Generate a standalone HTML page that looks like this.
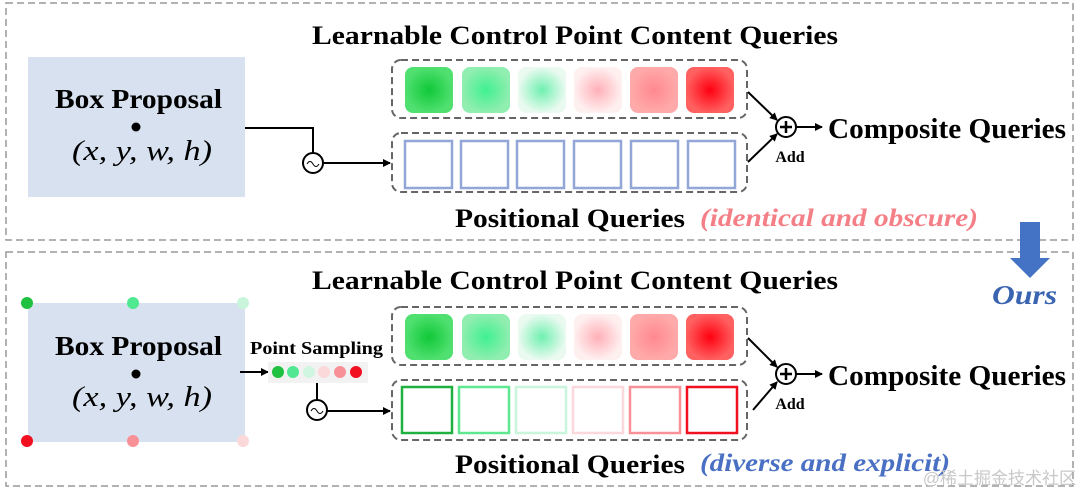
<!DOCTYPE html>
<html><head><meta charset="utf-8"><style>
html,body{margin:0;padding:0;background:#fff;}
svg{display:block;font-family:"Liberation Serif",serif;}
</style></head><body>
<svg width="1080" height="491" viewBox="0 0 1080 491" xmlns="http://www.w3.org/2000/svg">
<defs>
<marker id="ah" markerWidth="8" markerHeight="8" refX="7" refY="4" orient="auto" markerUnits="userSpaceOnUse"><path d="M0,0 L8,4 L0,8 Z" fill="#000"/></marker>
<radialGradient id="g1"><stop offset="0" stop-color="#10c838"/><stop offset="1" stop-color="#50e070"/></radialGradient>
<radialGradient id="g2"><stop offset="0" stop-color="#40f090"/><stop offset="1" stop-color="#90eeb0"/></radialGradient>
<radialGradient id="g3"><stop offset="0" stop-color="#70f0b0"/><stop offset="1" stop-color="#eafaf0"/></radialGradient>
<radialGradient id="g4"><stop offset="0" stop-color="#ffb0b8"/><stop offset="1" stop-color="#fff0f0"/></radialGradient>
<radialGradient id="g5"><stop offset="0" stop-color="#ff8890"/><stop offset="1" stop-color="#ffaaaa"/></radialGradient>
<radialGradient id="g6"><stop offset="0" stop-color="#ff0010"/><stop offset="1" stop-color="#ff6060"/></radialGradient>
</defs>
<rect x="6" y="3" width="1067" height="237" fill="none" stroke="#999" stroke-width="1.5" stroke-dasharray="7,4"/>
<rect x="6" y="252" width="1067" height="234" fill="none" stroke="#999" stroke-width="1.5" stroke-dasharray="7,4"/>

<g id="top">
<text x="312" y="44" font-size="26" font-weight="bold" textLength="526" lengthAdjust="spacingAndGlyphs">Learnable Control Point Content Queries</text>
<rect x="28" y="57" width="217" height="140" fill="#d7e1ef"/>
<text x="55" y="108" font-size="27" font-weight="bold" textLength="167" lengthAdjust="spacingAndGlyphs">Box Proposal</text>
<circle cx="136" cy="127" r="4.5" fill="#000"/>
<text x="72" y="160" font-size="29" font-style="italic" textLength="140" lengthAdjust="spacingAndGlyphs">(x, y, w, h)</text>
<polyline points="245,128 313,128 313,153" fill="none" stroke="#000" stroke-width="2"/>
<circle cx="313" cy="163" r="10" fill="#fff" stroke="#000" stroke-width="2"/>
<path d="M307,164 q3,-5 6,0 q3,5 6,0" fill="none" stroke="#000" stroke-width="1"/>
<line x1="323" y1="163" x2="390" y2="163" stroke="#000" stroke-width="2" marker-end="url(#ah)"/>
<rect x="392" y="60" width="355" height="58" rx="9" fill="#fff" stroke="#666" stroke-width="2" stroke-dasharray="7,4"/>
<rect x="405" y="67" width="48" height="46" rx="8" fill="url(#g1)"/>
<rect x="462" y="67" width="48" height="46" rx="8" fill="url(#g2)"/>
<rect x="518" y="67" width="48" height="46" rx="8" fill="url(#g3)"/>
<rect x="574" y="67" width="48" height="46" rx="8" fill="url(#g4)"/>
<rect x="630" y="67" width="48" height="46" rx="8" fill="url(#g5)"/>
<rect x="686" y="67" width="48" height="46" rx="8" fill="url(#g6)"/>
<rect x="392" y="133" width="355" height="59" rx="9" fill="#fff" stroke="#666" stroke-width="2" stroke-dasharray="7,4"/>
<g fill="none" stroke="#93a6d8" stroke-width="2.5">
<rect x="405" y="141" width="47" height="47"/><rect x="461" y="141" width="47" height="47"/><rect x="517" y="141" width="47" height="47"/><rect x="574" y="141" width="47" height="47"/><rect x="631" y="141" width="47" height="47"/><rect x="688" y="141" width="47" height="47"/>
</g>
<line x1="748" y1="92" x2="777" y2="120" stroke="#000" stroke-width="2" marker-end="url(#ah)"/>
<line x1="748" y1="162" x2="777" y2="134" stroke="#000" stroke-width="2" marker-end="url(#ah)"/>
<circle cx="786" cy="127" r="10" fill="#fff" stroke="#000" stroke-width="2"/>
<path d="M786,121 v12 M780,127 h12" stroke="#000" stroke-width="2.5"/>
<text x="790" y="162" text-anchor="middle" font-size="16" font-weight="bold">Add</text>
<line x1="796" y1="127" x2="822" y2="127" stroke="#000" stroke-width="2" marker-end="url(#ah)"/>
<text x="828" y="138" font-size="28" font-weight="bold" textLength="238" lengthAdjust="spacingAndGlyphs">Composite Queries</text>
<text x="455" y="227" font-size="26" font-weight="bold" textLength="230" lengthAdjust="spacingAndGlyphs">Positional Queries</text>
<text x="700" y="226" font-size="25" font-weight="bold" font-style="italic" fill="#f47f86" textLength="278" lengthAdjust="spacingAndGlyphs">(identical and obscure)</text>
</g>

<path d="M1020,222 h20 v36 h10 l-20,20 l-20,-20 h10 z" fill="#4472c4"/>
<text x="992" y="304" font-size="27" font-weight="bold" font-style="italic" fill="#3a64b0" textLength="65" lengthAdjust="spacingAndGlyphs">Ours</text>

<g id="bot">
<text x="312" y="289" font-size="26" font-weight="bold" textLength="526" lengthAdjust="spacingAndGlyphs">Learnable Control Point Content Queries</text>
<rect x="28" y="303" width="217" height="139" fill="#d7e1ef"/>
<text x="55" y="355" font-size="27" font-weight="bold" textLength="167" lengthAdjust="spacingAndGlyphs">Box Proposal</text>
<circle cx="136" cy="374" r="4.5" fill="#000"/>
<text x="72" y="406" font-size="29" font-style="italic" textLength="140" lengthAdjust="spacingAndGlyphs">(x, y, w, h)</text>
<circle cx="27" cy="303" r="6" fill="#20c040"/><circle cx="133" cy="303" r="6" fill="#50e890"/><circle cx="243" cy="303" r="6" fill="#c8f5dc"/>
<circle cx="27" cy="441" r="6" fill="#f01020"/><circle cx="133" cy="441" r="6" fill="#f89098"/><circle cx="243" cy="441" r="6" fill="#fbd8da"/>
<text x="250" y="354" font-size="18" font-weight="bold" textLength="133" lengthAdjust="spacingAndGlyphs">Point Sampling</text>
<line x1="240" y1="372" x2="268" y2="372" stroke="#000" stroke-width="2" marker-end="url(#ah)"/>
<rect x="268" y="362" width="100" height="21" fill="#f2f2f2"/>
<circle cx="278" cy="372" r="6" fill="#20c040"/><circle cx="293" cy="372" r="6" fill="#50e890"/><circle cx="309" cy="372" r="6" fill="#d0f5e0"/><circle cx="324" cy="372" r="6" fill="#fbd8da"/><circle cx="340" cy="372" r="6" fill="#f89098"/><circle cx="356" cy="372" r="6" fill="#f01020"/>
<line x1="317" y1="383" x2="317" y2="400" stroke="#000" stroke-width="2"/>
<circle cx="317" cy="410" r="10" fill="#fff" stroke="#000" stroke-width="2"/>
<path d="M311,411 q3,-5 6,0 q3,5 6,0" fill="none" stroke="#000" stroke-width="1"/>
<line x1="327" y1="411" x2="390" y2="411" stroke="#000" stroke-width="2" marker-end="url(#ah)"/>
<rect x="392" y="307" width="355" height="58" rx="9" fill="#fff" stroke="#666" stroke-width="2" stroke-dasharray="7,4"/>
<rect x="405" y="314" width="48" height="46" rx="8" fill="url(#g1)"/>
<rect x="462" y="314" width="48" height="46" rx="8" fill="url(#g2)"/>
<rect x="518" y="314" width="48" height="46" rx="8" fill="url(#g3)"/>
<rect x="574" y="314" width="48" height="46" rx="8" fill="url(#g4)"/>
<rect x="630" y="314" width="48" height="46" rx="8" fill="url(#g5)"/>
<rect x="686" y="314" width="48" height="46" rx="8" fill="url(#g6)"/>
<rect x="392" y="380" width="355" height="60" rx="9" fill="#fff" stroke="#666" stroke-width="2" stroke-dasharray="7,4"/>
<g fill="none" stroke-width="2.5">
<rect x="402" y="387" width="50" height="46" stroke="#20b040"/>
<rect x="459" y="387" width="50" height="46" stroke="#60e890"/>
<rect x="516" y="387" width="50" height="46" stroke="#c8f5dc"/>
<rect x="573" y="387" width="50" height="46" stroke="#fbd8dc"/>
<rect x="630" y="387" width="50" height="46" stroke="#f89098"/>
<rect x="687" y="387" width="50" height="46" stroke="#f01020"/>
</g>
<line x1="748" y1="338" x2="777" y2="367" stroke="#000" stroke-width="2" marker-end="url(#ah)"/>
<line x1="753" y1="410" x2="777" y2="382" stroke="#000" stroke-width="2" marker-end="url(#ah)"/>
<circle cx="786" cy="374" r="10" fill="#fff" stroke="#000" stroke-width="2"/>
<path d="M786,368 v12 M780,374 h12" stroke="#000" stroke-width="2.5"/>
<text x="790" y="409" text-anchor="middle" font-size="16" font-weight="bold">Add</text>
<line x1="796" y1="374" x2="822" y2="374" stroke="#000" stroke-width="2" marker-end="url(#ah)"/>
<text x="828" y="385" font-size="28" font-weight="bold" textLength="238" lengthAdjust="spacingAndGlyphs">Composite Queries</text>
<text x="455" y="473" font-size="26" font-weight="bold" textLength="230" lengthAdjust="spacingAndGlyphs">Positional Queries</text>
<text x="700" y="471" font-size="25" font-weight="bold" font-style="italic" fill="#4a70c4" textLength="250" lengthAdjust="spacingAndGlyphs">(diverse and explicit)</text>
<text x="1076" y="484" text-anchor="end" font-size="17" fill="#c8c8c8" font-family="'Liberation Sans','Noto Sans CJK SC',sans-serif">@稀土掘金技术社区</text>
</g>
</svg>
</body></html>
